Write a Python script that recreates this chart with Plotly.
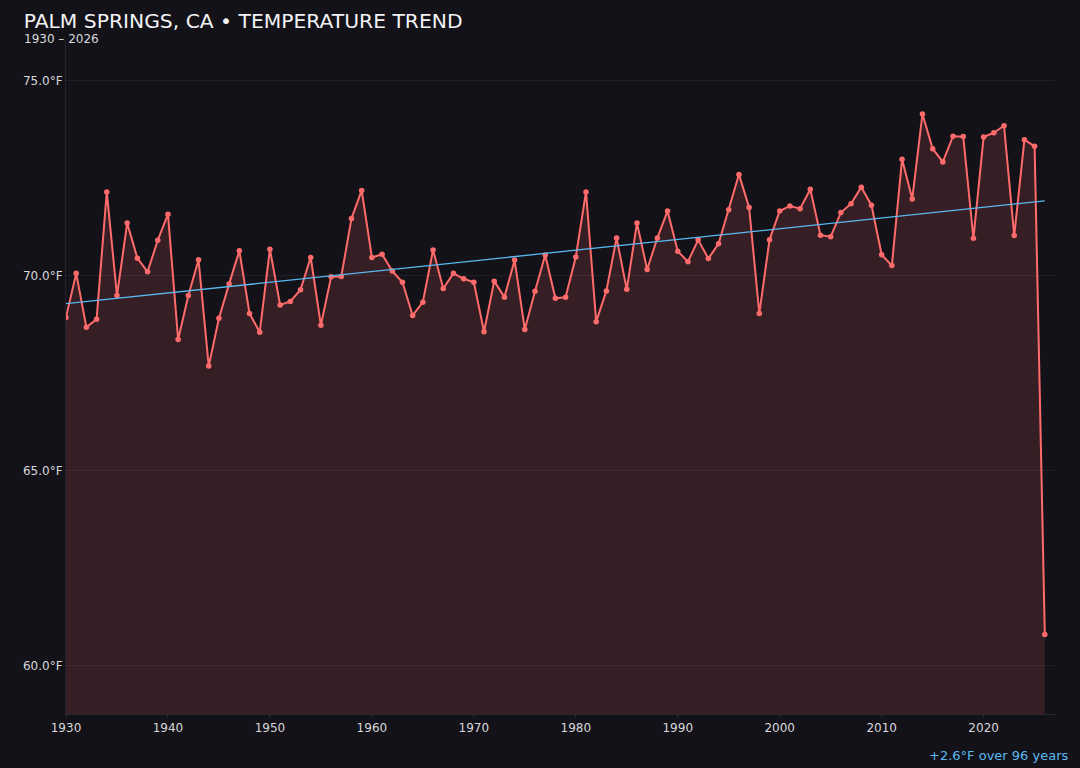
import numpy as np
import plotly.graph_objects as go

# yearly mean temperature, Palm Springs
years = list(range(1930, 2027))
temps = [
    68.93, 70.06, 68.68, 68.88, 72.15, 69.49, 71.35, 70.45, 70.10, 70.91,
    71.58, 68.36, 69.49, 70.41, 67.68, 68.91, 69.79, 70.64, 69.03, 68.55,
    70.68, 69.25, 69.34, 69.64, 70.47, 68.73, 69.97, 69.98, 71.47, 72.19,
    70.47, 70.55, 70.12, 69.83, 68.98, 69.32, 70.66, 69.67, 70.06, 69.92,
    69.83, 68.56, 69.86, 69.45, 70.40, 68.62, 69.60, 70.53, 69.42, 69.45,
    70.48, 72.15, 68.82, 69.61, 70.97, 69.65, 71.35, 70.16, 70.97, 71.66,
    70.63, 70.36, 70.92, 70.44, 70.82, 71.69, 72.60, 71.75, 69.03, 70.92,
    71.66, 71.79, 71.72, 72.22, 71.04, 71.00, 71.62, 71.85, 72.27, 71.81,
    70.54, 70.26, 72.99, 71.97, 74.15, 73.26, 72.92, 73.58, 73.57, 70.96,
    73.56, 73.67, 73.85, 71.03, 73.49, 73.32, 60.79,
]
y_ticks = [60, 65, 70, 75]
x_ticks = list(range(1930, 2030, 10))

# linear trend
slope, intercept = np.polyfit(years, temps, 1)
trend = [slope * y + intercept for y in years]
span = years[-1] - years[0]
change = slope * span

bg = "#131218"
red = "#ff6b6b"
blue = "#5ab8f0"

fig = go.Figure()
fig.add_trace(go.Scatter(
    x=years, y=temps, mode="lines+markers",
    line=dict(color=red, width=2),
    marker=dict(size=5.5, color=red),
    fill="tozeroy", fillcolor="rgba(255,107,107,0.15)",
))
fig.add_trace(go.Scatter(
    x=years, y=trend, mode="lines",
    line=dict(color=blue, width=1.3),
))

fig.update_layout(
    width=1080, height=768,
    paper_bgcolor=bg, plot_bgcolor=bg,
    showlegend=False,
    margin=dict(l=66, r=25, t=40, b=54),
    font=dict(family="DejaVu Sans", color="#d8d8dc", size=12),
    title=dict(
        text="PALM SPRINGS, CA • TEMPERATURE TREND",
        x=0.022, xanchor="left", y=0.973, yanchor="middle",
        font=dict(size=20.3, color="#f2f2f4"),
    ),
    xaxis=dict(
        range=[1930, 2027], tickvals=x_ticks, showgrid=False,
        showline=True, linecolor="#2a2a32", ticks="outside", ticklen=3,
        tickcolor="#2a2a32", zeroline=False,
    ),
    yaxis=dict(
        range=[58.75, 76.05], tickvals=y_ticks,
        ticktext=[f"{v:.1f}°F" for v in y_ticks],
        gridcolor="#201f27", showline=True,
        linecolor="#24232b", zeroline=False,
    ),
)
fig.add_annotation(
    text=f"{years[0]} – {years[-1]}", xref="paper", yref="paper",
    x=-0.0445, y=1.0015, xanchor="left", yanchor="middle", showarrow=False,
    font=dict(size=12, color="#d8d8dc"),
)
fig.add_annotation(
    text=f"{change:+.1f}°F over {span} years", xref="paper", yref="paper",
    x=1.0155, y=-0.0623, xanchor="right", yanchor="middle", showarrow=False,
    font=dict(size=13, color=blue),
)

fig.write_html(
    "out.html",
    config={"displayModeBar": False},
    post_script="document.body.style.margin='0';",
)
